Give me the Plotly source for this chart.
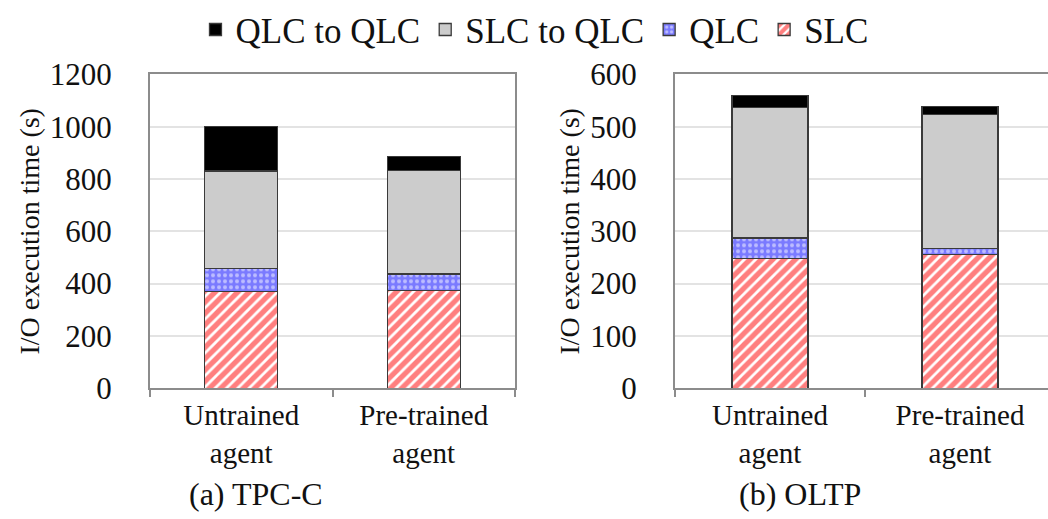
import plotly.graph_objects as go

categories = ["Untrained<br>agent", "Pre-trained<br>agent"]
series_names = ["SLC", "QLC", "SLC to QLC", "QLC to QLC"]

tpcc_slc = [370, 375]
tpcc_qlc = [88, 62]
tpcc_slc_to_qlc = [372, 396]
tpcc_qlc_to_qlc = [170, 54]

oltp_slc = [248, 255]
oltp_qlc = [39, 12]
oltp_slc_to_qlc = [250, 256]
oltp_qlc_to_qlc = [23, 16]

panel_titles = ["(a) TPC-C", "(b) OLTP"]
y_title = "I/O execution time (s)"

FONT = "Liberation Serif"
OUTLINE = dict(color="#3a3a3a", width=1.3)

styles = {
    "SLC": dict(color="white", line=OUTLINE,
                pattern=dict(shape="/", fgcolor="#ff0000", bgcolor="white", size=8, solidity=0.65)),
    "QLC": dict(color="#7a7aff", line=OUTLINE,
                pattern=dict(shape=".", fgcolor="white", bgcolor="#7a7aff", size=6, solidity=0.35)),
    "SLC to QLC": dict(color="#cccccc", line=OUTLINE),
    "QLC to QLC": dict(color="#000000", line=OUTLINE),
}

fig = go.Figure()
panels = [
    ("x", "y", [tpcc_slc, tpcc_qlc, tpcc_slc_to_qlc, tpcc_qlc_to_qlc], True),
    ("x2", "y2", [oltp_slc, oltp_qlc, oltp_slc_to_qlc, oltp_qlc_to_qlc], False),
]
for xa, ya, vals, show in panels:
    for name, v in zip(series_names, vals):
        fig.add_trace(go.Bar(x=categories, y=v, name=name, xaxis=xa, yaxis=ya,
                             marker=styles[name], width=0.4, showlegend=show))

W, H = 1048, 519
y0 = (H - 387) / H
y1 = (H - 70) / H
axis_col = "#8c8c8c"
grid_col = "#e3e3e3"
ytick_font = dict(family=FONT, size=31, color="#111")
xtick_font = dict(family=FONT, size=29, color="#111")

common_x = dict(type="category", showline=True, linecolor=axis_col, linewidth=2,
                ticks="outside", tickson="boundaries", ticklen=7, tickcolor=axis_col,
                tickwidth=1.5, tickfont=xtick_font, showgrid=False, mirror=True,
                automargin=False)
common_y = dict(showline=True, linecolor=axis_col, linewidth=2, showgrid=True,
                gridcolor=grid_col, gridwidth=1.5, tickfont=ytick_font, ticks="",
                ticklabelstandoff=30, zeroline=False, automargin=False,
                title=dict(text=y_title, font=dict(family=FONT, size=28, color="#111"), standoff=2))

fig.update_layout(
    width=W, height=H,
    margin=dict(l=0, r=0, t=0, b=0),
    paper_bgcolor="white", plot_bgcolor="white",
    barmode="stack",
    font=dict(family=FONT, color="#111"),
    xaxis=dict(common_x, domain=[150 / W, 515 / W], range=[-0.5, 1.5]),
    yaxis=dict(common_y, domain=[y0, y1], range=[0, 1200], dtick=200, mirror=True, anchor="x"),
    xaxis2=dict(common_x, domain=[675 / W, 1.0], range=[-0.5, 1.463], anchor="y2"),
    yaxis2=dict(common_y, domain=[y0, y1], range=[0, 600], dtick=100, mirror=False, anchor="x2"),
    legend=dict(orientation="h", x=0.51, xanchor="center", y=1 - 25 / H, yanchor="middle",
                traceorder="reversed", font=dict(family=FONT, size=35, color="#111"),
                itemwidth=30, bgcolor="rgba(0,0,0,0)"),
    showlegend=True,
)

for title, cx in zip(panel_titles, [256, 800]):
    fig.add_annotation(text=title, x=cx / W, y=1 - 494 / H, xref="paper", yref="paper",
                       showarrow=False, xanchor="center", yanchor="middle",
                       font=dict(family=FONT, size=32, color="#111"))

fig.write_html("out.html")
